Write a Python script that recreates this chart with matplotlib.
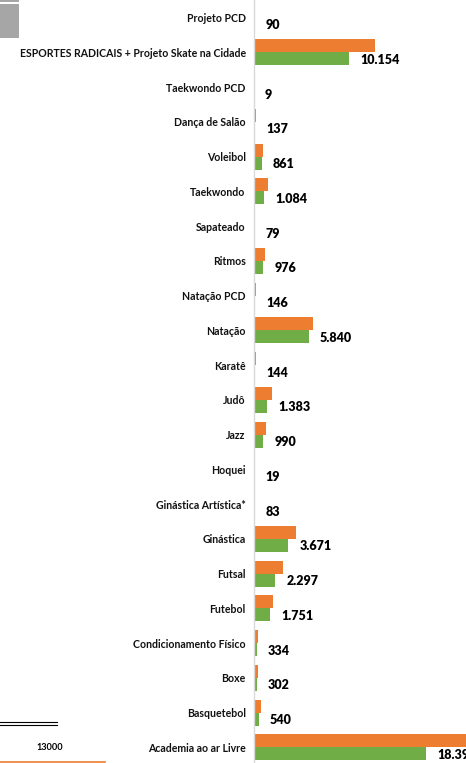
import matplotlib
matplotlib.use("Agg")
import matplotlib.pyplot as plt
from matplotlib.patches import Rectangle
from matplotlib.lines import Line2D
import numpy as np

categories = [
    "Projeto PCD", "ESPORTES RADICAIS + Projeto Skate na Cidade", "Taekwondo PCD",
    "Dança de Salão", "Voleibol", "Taekwondo", "Sapateado", "Ritmos", "Natação PCD",
    "Natação", "Karatê", "Judô", "Jazz", "Hoquei", "Ginástica Artística*", "Ginástica",
    "Futsal", "Futebol", "Condicionamento Físico", "Boxe", "Basquetebol", "Academia ao ar Livre",
]
orange_values = [150, 12930, 15, 200, 950, 1460, 100, 1170, 200, 6340, 200, 1890, 1280, 20,
                 120, 4450, 3070, 2060, 460, 400, 710, 24000]
green_values = [90, 10154, 9, 137, 861, 1084, 79, 976, 146, 5840, 144, 1383, 990, 19,
                83, 3671, 2297, 1751, 334, 302, 540, 18390]

ORANGE = "#ED7D31"
GREEN = "#70AD47"
FONT = "Lato"

def fmt(v):
    return f"{v:,}".replace(",", ".")

W, H = 466, 763
fig = plt.figure(figsize=(W / 100, H / 100), dpi=100)
x0 = 254
ax = fig.add_axes([x0 / W, 0, (W - x0) / W, 1])

y = np.arange(len(categories))
bh = 0.375
ax.barh(y - bh / 2, orange_values, height=bh, color=ORANGE)
ax.barh(y + bh / 2, green_values, height=bh, color=GREEN)

for yi, v in zip(y, green_values):
    ax.annotate(fmt(v), (v, yi + bh / 2), xytext=(11, -1), textcoords="offset pixels",
                ha="left", va="center", fontsize=9, fontweight="heavy",
                family=FONT, color="#000000", annotation_clip=False)

ax.set_xlim(0, (W - x0) / 0.00936)
ax.set_ylim(21.45, -0.505)
ax.set_yticks(y)
ax.set_yticklabels(categories, fontsize=7.6, fontweight="bold", family=FONT, color="#111111")
ax.tick_params(axis="y", length=0, pad=6)
ax.set_xticks([])
for s in ["top", "right", "bottom"]:
    ax.spines[s].set_visible(False)
ax.spines["left"].set_color("#d9d9d9")
ax.spines["left"].set_linewidth(1)

# decorations from the surrounding (cropped) page
fig.add_artist(Rectangle((0, 1 - 2 / H), 19 / W, 2 / H, transform=fig.transFigure,
                         color="#a6a6a6", lw=0))
fig.add_artist(Rectangle((0, 1 - 38 / H), 19 / W, 34 / H, transform=fig.transFigure,
                         color="#a6a6a6", lw=0))
for yy in (722, 725):
    fig.add_artist(Line2D([0, 57 / W], [1 - yy / H, 1 - yy / H], transform=fig.transFigure,
                          color="#000000", lw=0.8))
fig.text(50 / W, 1 - 747 / H, "13000", ha="center", va="center", fontsize=6.6,
         fontweight="bold", family=FONT, color="#000000")
fig.add_artist(Line2D([0, 105 / W], [1 - 762 / H, 1 - 762 / H], transform=fig.transFigure,
                      color=ORANGE, lw=1.2))

fig.savefig("out.png", dpi=100)
